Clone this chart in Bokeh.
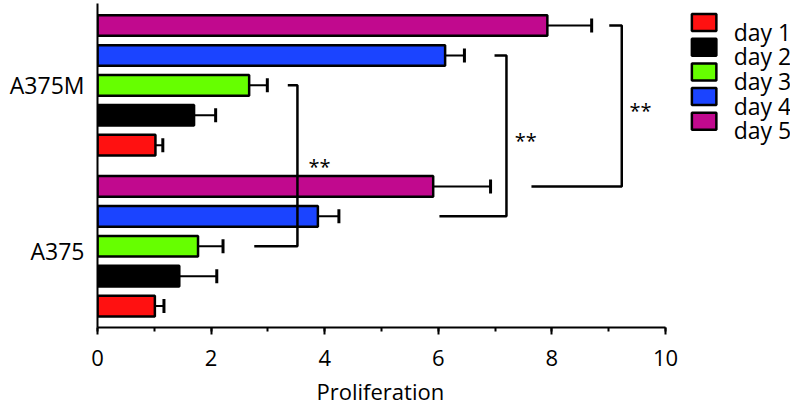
from bokeh.plotting import figure
from bokeh.models import (Range1d, FixedTicker, SingleIntervalTicker, Whisker, TeeHead,
                          Title, ColumnDataSource)
from bokeh.core.properties import value
from bokeh.embed import file_html
from bokeh.resources import INLINE

# ---- data ----
cell_lines = ["A375", "A375M"]
days = ["day 1", "day 2", "day 3", "day 4", "day 5"]
colors = ["#FF1111", "#000000", "#66FF00", "#1B44FF", "#C1098E"]
a375_mean = [1.01, 1.44, 1.77, 3.88, 5.91]
a375_err = [0.16, 0.66, 0.44, 0.37, 1.01]
a375m_mean = [1.02, 1.70, 2.67, 6.12, 7.92]
a375m_err = [0.13, 0.38, 0.32, 0.34, 0.78]
x_ticks = [0, 2, 4, 6, 8, 10]

# significance brackets (day 3, day 4, day 5 : A375 vs A375M)
sig_days = [2, 3, 4]
sig_labels = ["**", "**", "**"]
bracket_low_x = [2.76, 6.02, 7.64]
bracket_high_x = [3.35, 6.99, 9.01]
bracket_vert_x = [3.52, 7.20, 9.23]
star_x = [3.91, 7.54, 9.56]
star_y = [4.68, 5.55, 6.55]

# ---- layout helpers ----
FONT = "Open Sans"
group_pos = [0.0, 5.38]
label_pos = [1.83, 2.0]          # category label position within each group
px_per_unit = 56.8
W, H = 790, 411
left_b, top_b, bottom_b, right_b = 97, 3, 83, 0
frame_w = W - left_b - right_b

ys, rights, uppers, fills = [], [], [], []
for g, (means, errs) in enumerate([(a375_mean, a375_err), (a375m_mean, a375m_err)]):
    for i in range(len(days)):
        ys.append(group_pos[g] + i)
        rights.append(means[i])
        uppers.append(means[i] + errs[i])
        fills.append(colors[i])
src = ColumnDataSource(dict(y=ys, right=rights, upper=uppers, color=fills))

p = figure(width=W, height=H,
           x_range=Range1d(0, frame_w / px_per_unit), y_range=Range1d(-0.717, 10.117),
           output_backend="svg", toolbar_location=None,
           min_border_left=left_b, min_border_right=right_b,
           min_border_top=top_b, min_border_bottom=bottom_b)
p.outline_line_color = None
p.xgrid.visible = False
p.ygrid.visible = False
p.background_fill_color = "white"

p.hbar(y="y", left=0, right="right", height=0.69, fill_color="color",
       line_color="black", line_width=2.5, source=src)

wh = Whisker(source=src, base="y", lower="right", upper="upper", dimension="width",
             line_color="black", line_width=2,
             upper_head=TeeHead(size=14, line_width=3, line_color="black"), lower_head=None)
p.add_layout(wh)

# brackets
bxs, bys = [], []
for k, d in enumerate(sig_days):
    lo = group_pos[0] + d
    hi = group_pos[1] + d
    bxs.append([bracket_low_x[k], bracket_vert_x[k], bracket_vert_x[k], bracket_high_x[k]])
    bys.append([lo, lo, hi, hi])
p.multi_line(xs=bxs, ys=bys, line_color="black", line_width=2.5)
p.text(x=star_x, y=star_y, text=sig_labels, text_align="center", text_baseline="alphabetic",
       text_font=value(FONT), text_font_size="20px", text_color="black")

# legend (drawn manually)
legend_y = [9.48 - k * 0.825 for k in range(len(days))]
p.rect(x=10.68, y=legend_y, width=24.5, height=17, width_units="screen", height_units="screen",
       fill_color=colors, line_color="black", line_width=2.5)
p.text(x=11.20, y=legend_y, text=days, text_baseline="alphabetic", y_offset=9,
       text_font=value(FONT), text_font_size="23px", text_color="black")

# x axis
xa = p.xaxis[0]
xa.bounds = (0, 10)
xa.ticker = SingleIntervalTicker(interval=2, num_minor_ticks=2)
xa.axis_line_width = 2
xa.major_tick_line_width = 2
xa.minor_tick_line_width = 2
xa.major_tick_in = 0
xa.major_tick_out = 7
xa.minor_tick_in = 0
xa.minor_tick_out = 4
xa.major_label_standoff = 15
xa.major_label_text_font = FONT
xa.major_label_text_font_size = "22px"
xa.major_label_text_color = "black"

# y axis
ya = p.yaxis[0]
cat_ticks = [gp + lp for gp, lp in zip(group_pos, label_pos)]
ya.ticker = FixedTicker(ticks=cat_ticks, minor_ticks=[])
ya.major_label_overrides = {t: name for t, name in zip(cat_ticks, cell_lines)}
ya.axis_line_width = 2
ya.major_tick_in = 0
ya.major_tick_out = 0
ya.minor_tick_in = 0
ya.minor_tick_out = 0
ya.major_label_standoff = 13
ya.major_label_text_font = FONT
ya.major_label_text_font_size = "23px"
ya.major_label_text_color = "black"

# x axis title, centred on the 0-10 axis span
p.add_layout(Title(text="Proliferation", align="left", offset=219, standoff=11,
                   text_font=FONT, text_font_size="22px", text_font_style="normal",
                   text_color="black"), "below")

open("out.html", "w").write(file_html(p, INLINE))
